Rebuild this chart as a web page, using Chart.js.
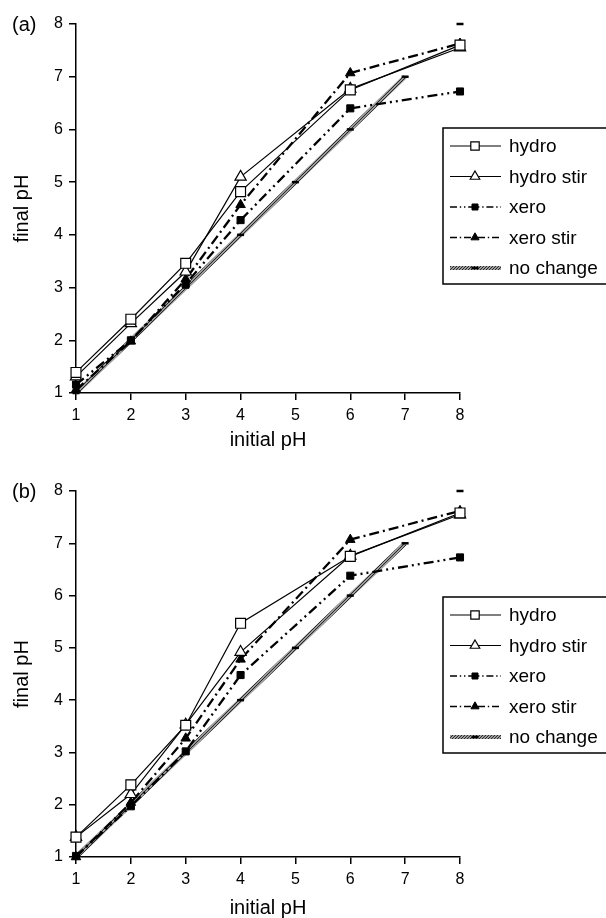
<!DOCTYPE html>
<html>
<head>
<meta charset="utf-8">
<script src="https://cdn.jsdelivr.net/npm/chart.js@4/dist/chart.umd.min.js"></script>
<style>
  body { margin: 0; background: #fff; }
  canvas { position: absolute; left: 0; }
  #chartA { top: 0; }
  #chartB { top: 450px; }
</style>
</head>
<body>
<canvas id="chartA" width="606" height="450"></canvas>
<canvas id="chartB" width="606" height="468"></canvas>
<script>
// measured initial pH values
const initialPH = [1, 2, 3, 4, 6, 8];
// reference line: final pH equal to initial pH
const noChangeX = [1, 2, 3, 4, 5, 6, 7, 8];
const noChangeY = [1, 2, 3, 4, 5, 6, 7, 8];

const seriesNames = ['hydro', 'hydro stir', 'xero', 'xero stir', 'no change'];

// panel (a)
const hydroA     = [1.39, 2.40, 3.46, 4.82, 6.75, 7.60];
const hydroStirA = [1.31, 2.32, 3.30, 5.10, 6.77, 7.55];
const xeroA      = [1.16, 2.00, 3.07, 4.28, 6.40, 6.72];
const xeroStirA  = [1.06, 1.98, 3.16, 4.57, 7.07, 7.63];

// panel (b)
const hydroB     = [1.38, 2.38, 3.52, 5.47, 6.75, 7.58];
const hydroStirB = [1.38, 2.20, 3.53, 4.92, 6.76, 7.55];
const xeroB      = [1.02, 1.97, 3.02, 4.48, 6.38, 6.73];
const xeroStirB  = [1.00, 2.04, 3.27, 4.78, 7.07, 7.62];

const FONT = 'Arial, "Liberation Sans", sans-serif';

// grey hatched stroke for the no-change line
function hatchPattern() {
  const c = document.createElement('canvas');
  c.width = 3; c.height = 3;
  const g = c.getContext('2d');
  g.fillStyle = '#9a9a9a';
  g.fillRect(0, 0, 3, 3);
  g.fillStyle = '#2a2a2a';
  g.fillRect(0, 2, 1, 1);
  g.fillRect(1, 1, 1, 1);
  g.fillRect(2, 0, 1, 1);
  return g.createPattern(c, 'repeat');
}
const hatch = hatchPattern();

function pts(xs, ys) {
  return xs.map((x, i) => ({ x: x, y: ys[i] }));
}

const DASH_XERO = [10, 4, 2, 4, 2, 4];
const DASH_XERO_STIR = [10, 4, 2, 4];

function makeDatasets(h, hs, x, xs) {
  return [
    {
      label: seriesNames[0], data: pts(initialPH, h),
      borderColor: '#000', borderWidth: 1.2,
      pointStyle: 'rect', pointRadius: 7, pointBackgroundColor: '#fff',
      pointBorderColor: '#000', pointBorderWidth: 1.2,
      legendWidth: 1.2, clip: false
    },
    {
      label: seriesNames[1], data: pts(initialPH, hs),
      borderColor: '#000', borderWidth: 1.2,
      pointStyle: 'triangle', pointRadius: 6.5, pointBackgroundColor: '#fff',
      pointBorderColor: '#000', pointBorderWidth: 1.2,
      legendWidth: 1.2, clip: false
    },
    {
      label: seriesNames[2], data: pts(initialPH, x),
      borderColor: '#000', borderWidth: 2.3, borderDash: DASH_XERO,
      pointStyle: 'rect', pointRadius: 5, pointBackgroundColor: '#000',
      pointBorderColor: '#000', pointBorderWidth: 1,
      legendWidth: 1.3, clip: false
    },
    {
      label: seriesNames[3], data: pts(initialPH, xs),
      borderColor: '#000', borderWidth: 2.3, borderDash: DASH_XERO_STIR,
      pointStyle: 'triangle', pointRadius: 5.5, pointBackgroundColor: '#000',
      pointBorderColor: '#000', pointBorderWidth: 1,
      legendWidth: 1.3, clip: false
    },
    {
      label: seriesNames[4], data: pts(noChangeX, noChangeY),
      borderColor: hatch, borderWidth: 4.5,
      // the last point (8) stands alone, no segment from 7
      segment: { borderColor: c => c.p1.parsed.x > 7 ? 'rgba(0,0,0,0)' : hatch },
      pointStyle: 'line', pointRadius: 3.5, pointBackgroundColor: '#000',
      pointBorderColor: '#000', pointBorderWidth: 2.5,
      legendWidth: 4, clip: false
    }
  ];
}

function drawMarker(ctx, style, r, x, y, fill, lw) {
  ctx.save();
  ctx.fillStyle = fill;
  ctx.strokeStyle = '#000';
  ctx.lineWidth = lw;
  ctx.setLineDash([]);
  ctx.beginPath();
  if (style === 'rect') {
    const s = r * Math.SQRT1_2;
    ctx.rect(x - s, y - s, 2 * s, 2 * s);
    ctx.fill(); ctx.stroke();
  } else if (style === 'triangle') {
    for (let k = 0; k < 3; k++) {
      const a = k * 2 * Math.PI / 3;
      const px = x + Math.sin(a) * r, py = y - Math.cos(a) * r;
      k ? ctx.lineTo(px, py) : ctx.moveTo(px, py);
    }
    ctx.closePath();
    ctx.fill(); ctx.stroke();
  } else {
    ctx.moveTo(x - r, y); ctx.lineTo(x + r, y);
    ctx.stroke();
  }
  ctx.restore();
}

// boxed legend and panel letter
const panelDecor = {
  id: 'panelDecor',
  afterDraw(chart, args, opts) {
    const ctx = chart.ctx;
    const top = opts.legendTop;
    ctx.save();
    ctx.font = '20px ' + FONT;
    ctx.fillStyle = '#000';
    ctx.textBaseline = 'middle';
    ctx.textAlign = 'left';
    ctx.fillText(opts.letter, 12, chart.chartArea.top + 1);

    ctx.fillStyle = '#fff';
    ctx.strokeStyle = '#000';
    ctx.lineWidth = 1.5;
    ctx.fillRect(443, top, 170, 156);
    ctx.strokeRect(443, top, 170, 156);

    chart.data.datasets.forEach((ds, i) => {
      const y = top + 18 + i * 30.5;
      ctx.save();
      ctx.strokeStyle = ds.borderColor;
      ctx.lineWidth = ds.legendWidth;
      ctx.setLineDash(ds.borderDash ? ds.borderDash.map(v => v * 0.7) : []);
      ctx.beginPath();
      ctx.moveTo(450, y); ctx.lineTo(501, y);
      ctx.stroke();
      ctx.restore();
      const r = ds.pointStyle === 'line' ? 3.5 : ds.pointRadius * 0.85;
      drawMarker(ctx, ds.pointStyle, r, 475, y, ds.pointBackgroundColor, ds.pointBorderWidth);
      ctx.fillStyle = '#000';
      ctx.font = '19px ' + FONT;
      ctx.fillText(ds.label, 509, y + 1);
    });
    ctx.restore();
  }
};

function makeChart(id, datasets, letter, legendTop, plotTop, xHeight) {
  new Chart(document.getElementById(id), {
    type: 'line',
    data: { datasets: datasets },
    plugins: [panelDecor],
    options: {
      responsive: false,
      animation: false,
      layout: { padding: { top: plotTop, right: 146, bottom: 0, left: 0 } },
      plugins: {
        legend: { display: false },
        tooltip: { enabled: false },
        panelDecor: { letter: letter, legendTop: legendTop }
      },
      scales: {
        x: {
          type: 'linear', min: 1, max: 8,
          ticks: { stepSize: 1, color: '#000', font: { family: FONT, size: 16 }, padding: 6, maxRotation: 0 },
          grid: { display: true, drawOnChartArea: false, drawTicks: true, tickLength: 7, color: '#000', lineWidth: 1.5 },
          border: { display: true, color: '#000', width: 1.5 },
          title: { display: true, text: 'initial pH', color: '#000', font: { family: FONT, size: 20, lineHeight: 1 }, padding: { top: 0, bottom: 0 } },
          afterFit: s => { s.height = xHeight; }
        },
        y: {
          type: 'linear', min: 1, max: 8,
          ticks: { stepSize: 1, color: '#000', font: { family: FONT, size: 16 }, padding: 6 },
          grid: { display: true, drawOnChartArea: false, drawTicks: true, tickLength: 7, color: '#000', lineWidth: 1.5 },
          border: { display: true, color: '#000', width: 1.5 },
          title: { display: true, text: 'final pH', color: '#000', font: { family: FONT, size: 20, lineHeight: 1 }, padding: { top: 12, bottom: 0 } },
          afterFit: s => { s.width = 76; }
        }
      }
    }
  });
}

makeChart('chartA', makeDatasets(hydroA, hydroStirA, xeroA, xeroStirA), '(a)', 128, 24, 57);
makeChart('chartB', makeDatasets(hydroB, hydroStirB, xeroB, xeroStirB), '(b)', 147, 41, 61);
</script>
</body>
</html>
